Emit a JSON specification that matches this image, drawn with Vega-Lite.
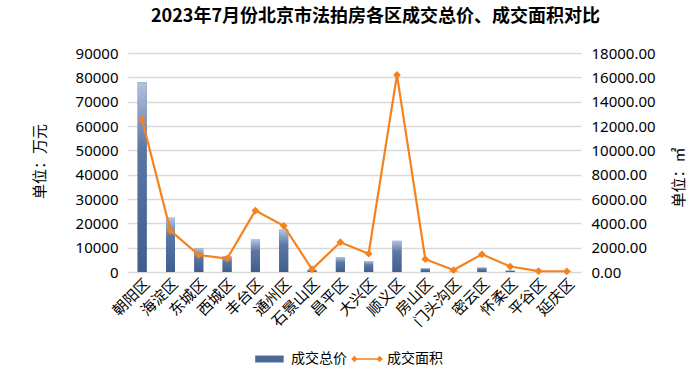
{
  "$schema": "https://vega.github.io/schema/vega-lite/v6.json",
  "width": 453,
  "height": 219,
  "autosize": {"type": "none"},
  "padding": {"left": 128, "top": 53, "right": 119, "bottom": 107},
  "background": "white",
  "title": {
    "text": "2023年7月份北京市法拍房各区成交总价、成交面积对比",
    "fontSize": 18,
    "fontWeight": "bold",
    "font": "Noto Sans CJK SC",
    "color": "#000000",
    "offset": 20,
    "dx": 21,
    "anchor": "middle"
  },
  "config": {
    "view": {"stroke": null},
    "font": "Noto Sans CJK SC"
  },
  "data": {
    "values": [
      {"区": "朝阳区", "总价": 78000, "面积": 12500},
      {"区": "海淀区", "总价": 22300, "面积": 3400},
      {"区": "东城区", "总价": 9600, "面积": 1400},
      {"区": "西城区", "总价": 6500, "面积": 1100},
      {"区": "丰台区", "总价": 13300, "面积": 5050},
      {"区": "通州区", "总价": 17400, "面积": 3800},
      {"区": "石景山区", "总价": 800, "面积": 220},
      {"区": "昌平区", "总价": 6000, "面积": 2450},
      {"区": "大兴区", "总价": 4500, "面积": 1500},
      {"区": "顺义区", "总价": 12800, "面积": 16200},
      {"区": "房山区", "总价": 1500, "面积": 1050},
      {"区": "门头沟区", "总价": 200, "面积": 160},
      {"区": "密云区", "总价": 1800, "面积": 1450},
      {"区": "怀柔区", "总价": 600, "面积": 450},
      {"区": "平谷区", "总价": 150, "面积": 80},
      {"区": "延庆区", "总价": 100, "面积": 60}
    ]
  },
  "encoding": {
    "x": {
      "field": "区",
      "type": "nominal",
      "sort": null,
      "title": null,
      "scale": {"paddingInner": 0, "paddingOuter": 0},
      "axis": {
        "labelAngle": -45,
        "labelFontSize": 15,
        "labelColor": "#000000",
        "labelFont": "Noto Sans CJK SC",
        "ticks": false,
        "labelPadding": 4,
        "domainColor": "#d9d9d9",
        "domainWidth": 1,
        "grid": false
      }
    }
  },
  "layer": [
    {
      "encoding": {
        "y": {
          "field": "总价",
          "type": "quantitative",
          "scale": {"domain": [0, 90000]},
          "axis": {
            "values": [0, 10000, 20000, 30000, 40000, 50000, 60000, 70000, 80000, 90000],
            "title": "单位：万元",
            "titleFontSize": 15,
            "titleFontWeight": "normal",
            "titleColor": "#000000",
            "titleX": -81,
            "titleY": 108,
            "titleAngle": -90,
            "labelFontSize": 15,
            "labelFont": "Noto Sans",
            "labelColor": "#000000",
            "labelPadding": 10,
            "ticks": false,
            "domain": false,
            "grid": true,
            "gridColor": "#d9d9d9",
            "gridWidth": 1.3,
            "format": "d"
          }
        }
      },
      "layer": [
        {
          "mark": {"type": "bar", "size": 9},
          "encoding": {
            "color": {
              "datum": "成交总价",
              "scale": {"domain": ["成交总价", "成交面积"], "range": ["#4d6897", "#f5821f"]},
              "legend": {
                "orient": "none",
                "legendX": 127,
                "legendY": 290,
                "direction": "horizontal",
                "title": null,
                "labelFontSize": 14,
                "labelFont": "Noto Sans CJK SC",
                "labelColor": "#000000",
                "labelOffset": 4,
                "columnPadding": 4,
                "symbolSize": 1000,
                "encode": {
                  "symbols": {
                    "update": {
                      "shape": {"signal": "datum.value === '成交总价' ? 'M-1,-0.22H0.8V0.22H-1Z' : 'M-0.85,-0.05H0.85V0.05H-0.85Z M-0.8,-0.2L-0.6,0L-0.8,0.2L-1,0Z M0.8,-0.2L1,0L0.8,0.2L0.6,0Z'"},
                      "fill": {"signal": "datum.value === '成交总价' ? '#4d6897' : '#f5821f'"},
                      "stroke": {"value": "transparent"},
                      "strokeWidth": {"value": 0},
                      "size": {"value": 1000},
                      "opacity": {"value": 1}
                    }
                  }
                }
              }
            }
          }
        },
        {
          "mark": {
            "type": "bar",
            "size": 9,
            "fill": {
              "gradient": "linear",
              "x1": 0, "y1": 1, "x2": 0, "y2": 0,
              "stops": [
                {"offset": 0, "color": "#415d8c"},
                {"offset": 0.65, "color": "#5b77a5"},
                {"offset": 1, "color": "#b3c3df"}
              ]
            }
          }
        }
      ]
    },
    {
      "encoding": {
        "y": {
          "field": "面积",
          "type": "quantitative",
          "scale": {"domain": [0, 18000]},
          "axis": {
            "orient": "right",
            "values": [0, 2000, 4000, 6000, 8000, 10000, 12000, 14000, 16000, 18000],
            "format": ".2f",
            "title": "单位：㎡",
            "titleFontSize": 15,
            "titleFontWeight": "normal",
            "titleColor": "#000000",
            "titleX": 105,
            "titleY": 124,
            "titleAngle": -90,
            "labelFontSize": 15,
            "labelFont": "Noto Sans",
            "labelColor": "#000000",
            "labelPadding": 10,
            "ticks": false,
            "domain": false,
            "grid": false
          }
        },
        "color": {"datum": "成交面积"}
      },
      "layer": [
        {"mark": {"type": "line", "strokeWidth": 2.2}},
        {"mark": {"type": "point", "shape": "diamond", "filled": true, "size": 60, "opacity": 1}}
      ]
    }
  ],
  "resolve": {"scale": {"y": "independent"}}
}
